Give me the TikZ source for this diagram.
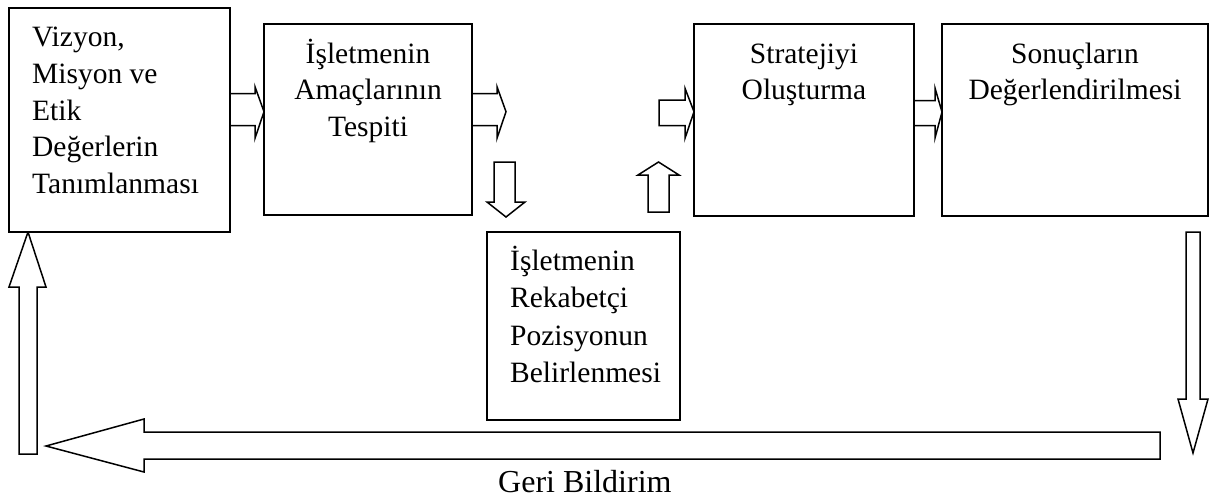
\documentclass[tikz,border=0pt]{standalone}
\usepackage{fontspec}
\setmainfont{Liberation Serif}
\begin{document}
\begin{tikzpicture}[x=1pt,y=-1pt,
  box/.style={draw=black,line width=1.7pt,fill=white},
  blockarrow/.style={draw=black,line width=1.5pt,fill=white,line join=miter},
  txt/.style={inner sep=0pt,font=\fontsize{29.5}{36.5}\selectfont},
  ltxt/.style={txt,anchor=base west},
  ctxt/.style={txt,anchor=base}]
\useasboundingbox (0,0) rectangle (1214,499);
% arrows (drawn first, boxes cover ends)
% box1 -> box2
\draw[blockarrow] (228,93.5) -- (255,93.5) -- (255,86.7) -- (264,111.7) -- (255,138.3) -- (255,125.7) -- (228,125.7) -- cycle;
% box2 -> right
\draw[blockarrow] (472,93.5) -- (497,93.5) -- (497,86.7) -- (506,111.7) -- (497,138.3) -- (497,125.7) -- (472,125.7) -- cycle;
% down arrow
\draw[blockarrow] (494,162) -- (515,162) -- (515,202) -- (525,202) -- (506,217) -- (487,202) -- (494,202) -- cycle;
% right into box3
\draw[blockarrow] (659,100) -- (685,100) -- (685,88.3) -- (694,111.7) -- (685,138.3) -- (685,125.7) -- (659,125.7) -- cycle;
% up arrow
\draw[blockarrow] (648,212) -- (669,212) -- (669,175) -- (679,175) -- (658.5,162) -- (638,175) -- (648,175) -- cycle;
% box3 -> box4
\draw[blockarrow] (912,100.7) -- (935,100.7) -- (935,88) -- (942,112) -- (935,138) -- (935,125.7) -- (912,125.7) -- cycle;
% down right
\draw[blockarrow] (1186,232) -- (1200,232) -- (1200,399) -- (1208,399) -- (1193,453) -- (1178,399) -- (1186,399) -- cycle;
% bottom left-pointing
\draw[blockarrow] (1160,432) -- (144,432) -- (144,419) -- (46,446) -- (144,472) -- (144,459) -- (1160,459) -- cycle;
% up left
\draw[blockarrow] (19,454) -- (37,454) -- (37,287) -- (46,287) -- (28,232) -- (9,287) -- (19,287) -- cycle;
% boxes
\draw[box] (9,8) rectangle (230,232);
\node[inner sep=0pt] (b1) at (119.5,120) {};
\draw[box] (264,24) rectangle (472,215);
\node[inner sep=0pt] (b2) at (368,119.5) {};
\draw[box] (694,24) rectangle (914,216);
\node[inner sep=0pt] (b3) at (804,120) {};
\draw[box] (942,24) rectangle (1208,216);
\node[inner sep=0pt] (b4) at (1075,120) {};
\draw[box] (487,232) rectangle (680,420);
\node[inner sep=0pt] (b5) at (583.5,326) {};
% texts
\node[ltxt] (t11) at (32,46.7) {Vizyon,};
\node[ltxt] (t12) at (32,83.4) {Misyon ve};
\node[ltxt] (t13) at (32,120.1) {Etik};
\node[ltxt] (t14) at (32,156.8) {Değerlerin};
\node[ltxt] (t15) at (32,193.5) {Tanımlanması};
\node[ctxt] (t21) at (368,63) {İşletmenin};
\node[ctxt] (t22) at (368,99.7) {Amaçlarının};
\node[ctxt] (t23) at (368,136.4) {Tespiti};
\node[ctxt] (t31) at (804,63) {Stratejiyi};
\node[ctxt] (t32) at (804,99.7) {Oluşturma};
\node[ctxt] (t41) at (1075,63) {Sonuçların};
\node[ctxt] (t42) at (1075,99.7) {Değerlendirilmesi};
\node[ltxt] (t51) at (510,270) {İşletmenin};
\node[ltxt] (t52) at (510,307.5) {Rekabetçi};
\node[ltxt] (t53) at (510,345) {Pozisyonun};
\node[ltxt] (t54) at (510,382.5) {Belirlenmesi};
\node[ltxt,font=\fontsize{32}{38}\selectfont] (geri) at (498,492) {Geri Bildirim};
\end{tikzpicture}
\end{document}
